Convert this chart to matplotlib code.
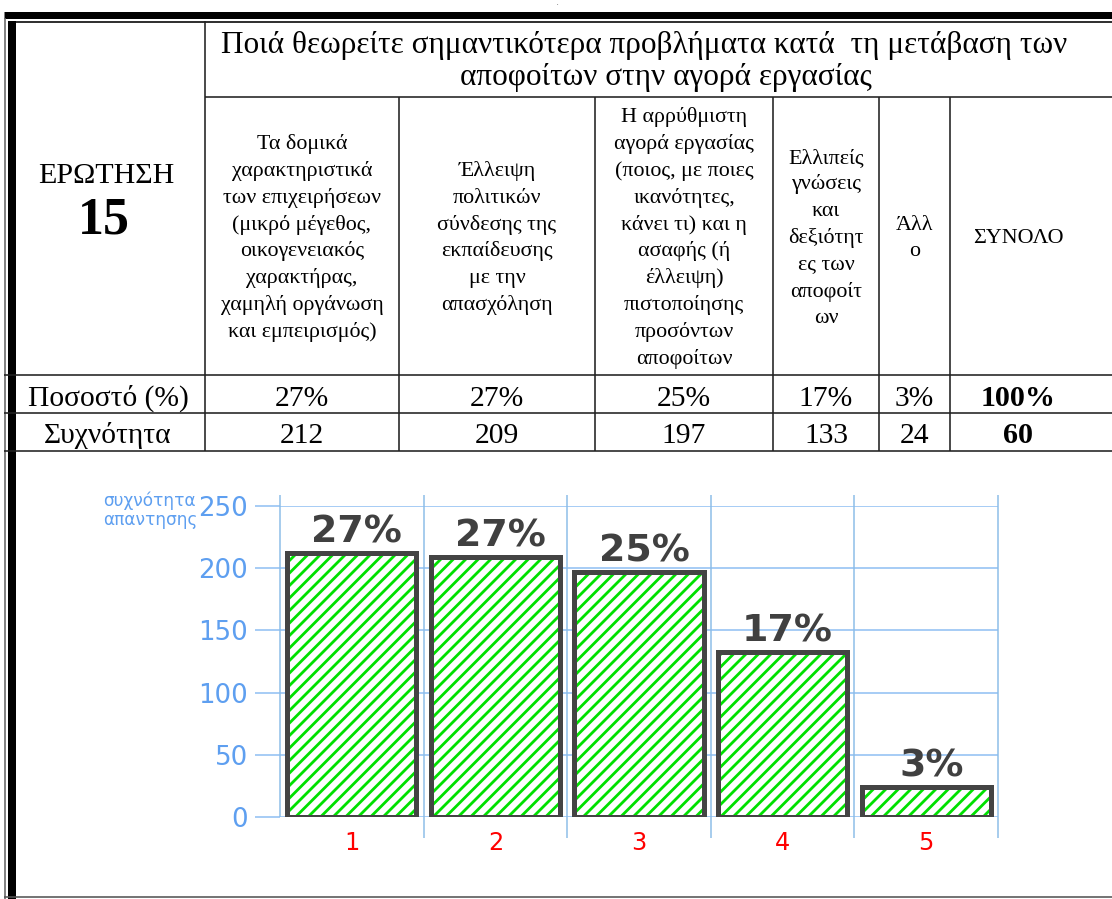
import matplotlib
matplotlib.use('Agg')
import matplotlib.pyplot as plt
import numpy as np

DPI = 75
W, H = 1112, 899
P = 72.0 / DPI   # pixel -> point

# ---------------- data ----------------
title_lines = ['Ποιά θεωρείτε σημαντικότερα προβλήματα κατά  τη μετάβαση των',
               'αποφοίτων στην αγορά εργασίας']
question = 'ΕΡΩΤΗΣΗ'
question_no = '15'
headers = [
    ['Τα δομικά', 'χαρακτηριστικά', 'των επιχειρήσεων', '(μικρό μέγεθος,',
     'οικογενειακός', 'χαρακτήρας,', 'χαμηλή οργάνωση', 'και εμπειρισμός)'],
    ['Έλλειψη', 'πολιτικών', 'σύνδεσης της', 'εκπαίδευσης', 'με την', 'απασχόληση'],
    ['Η αρρύθμιστη', 'αγορά εργασίας', '(ποιος, με ποιες', 'ικανότητες,',
     'κάνει τι) και η', 'ασαφής (ή', 'έλλειψη)', 'πιστοποίησης', 'προσόντων', 'αποφοίτων'],
    ['Ελλιπείς', 'γνώσεις', 'και', 'δεξιότητ', 'ες των', 'αποφοίτ', 'ων'],
    ['Άλλ', 'ο'],
    ['ΣΥΝΟΛΟ'],
]
row_labels = ['Ποσοστό (%)', 'Συχνότητα']
percent = [27, 27, 25, 17, 3]
frequency = [212, 209, 197, 133, 24]
total_percent = 100
total_frequency = 60
categories = ['1', '2', '3', '4', '5']
yticks = [0, 50, 100, 150, 200, 250]
ylabel_lines = ['συχνότητα', 'απαντησης']

SERIF = 'Liberation Serif'
plt.rcParams['hatch.linewidth'] = 2.8 * P

fig = plt.figure(figsize=(W / DPI, H / DPI), dpi=DPI)

# ---- background layer in pixel coordinates: table frame and texts ----
bg = fig.add_axes([0, 0, 1, 1])
bg.set_xlim(0, W)
bg.set_ylim(H, 0)
bg.axis('off')


def hline(y, x0, x1, lw=1.6, c='#222222'):
    bg.plot([x0, x1], [y, y], color=c, lw=lw * P, solid_capstyle='butt')


def vline(x, y0, y1, lw=1.6, c='#222222'):
    bg.plot([x, x], [y0, y1], color=c, lw=lw * P, solid_capstyle='butt')


# outer double border
hline(14.5, 4, W, lw=7, c='black')
hline(21.5, 8, W, lw=1.6, c='black')
vline(5, 18, H, lw=1.6, c='#666666')
vline(12, 21, H, lw=8, c='black')
hline(897, 4, W, lw=1.6, c='#555555')

col_edges = [205, 399, 595, 773, 879, 950, 1086]
y_head, y_r1, y_r2, y_bot = 97, 375, 413, 451

hline(y_head, col_edges[0], W)
for y in (y_r1, y_r2, y_bot):
    hline(y, 4, W)
vline(col_edges[0], 21, y_bot)
for xe in col_edges[1:-1]:
    vline(xe, y_head, y_bot)

bg.text(557, 5, '.', ha='center', va='baseline', fontsize=6 * P, family=SERIF)

# title
bg.text(644, 53, title_lines[0], ha='center', va='baseline', fontsize=31.3 * P, family=SERIF)
bg.text(666, 85, title_lines[1], ha='center', va='baseline', fontsize=31.3 * P, family=SERIF)

# question cell
bg.text(106, 183, question, ha='center', va='baseline', fontsize=30 * P, family=SERIF)
bg.text(104, 233, question_no, ha='center', va='baseline', fontsize=52 * P,
        family=SERIF, fontweight='bold')

# column headers
col_centers = [(a + b) / 2 for a, b in zip(col_edges[:-1], col_edges[1:])]
gap = 26.8
for cx, lines in zip(col_centers, headers):
    n = len(lines)
    for i, line in enumerate(lines):
        y = 237 + (i - (n - 1) / 2) * gap + 6
        bg.text(cx, y, line, ha='center', va='baseline', fontsize=22 * P, family=SERIF)

# value rows
bg.text(108, 406, row_labels[0], ha='center', va='baseline', fontsize=29.5 * P, family=SERIF)
bg.text(108, 443, row_labels[1], ha='center', va='baseline', fontsize=29.5 * P, family=SERIF)
for cx, p, f in zip(col_centers, percent, frequency):
    bg.text(cx, 406, f'{p}%', ha='center', va='baseline', fontsize=29.5 * P, family=SERIF)
    bg.text(cx, 443, str(f), ha='center', va='baseline', fontsize=29.5 * P, family=SERIF)
bg.text(col_centers[-1], 406, f'{total_percent}%', ha='center', va='baseline',
        fontsize=30 * P, family=SERIF, fontweight='bold')
bg.text(col_centers[-1], 443, str(total_frequency), ha='center', va='baseline',
        fontsize=30 * P, family=SERIF, fontweight='bold')

# y label of the chart
BLUE_TXT = '#5e9ff0'
bg.text(103, 506, ylabel_lines[0], ha='left', va='baseline', fontsize=17 * P, color=BLUE_TXT)
bg.text(103, 525, ylabel_lines[1], ha='left', va='baseline', fontsize=17 * P, color=BLUE_TXT)

# ---------------- bar chart ----------------
ax = fig.add_axes([280 / W, 1 - 817 / H, 718 / W, 311 / H])
ax.patch.set_alpha(0)
x = np.arange(1, len(categories) + 1)

ax.bar(x, frequency, width=0.9, facecolor='white', edgecolor='#00e000',
       hatch='//', linewidth=0, zorder=3)
ax.bar(x, frequency, width=0.9, facecolor='none', edgecolor='#444444',
       linewidth=5 * P, zorder=4)

for xi, v, p in zip(x, frequency, percent):
    ax.annotate(f'{p}%', (xi, v), xytext=(5 * P, 10.5 * P), textcoords='offset points',
                ha='center', va='baseline', fontsize=38 * P, fontweight='bold',
                color='#404040', zorder=5)

ax.set_xlim(0.5, len(categories) + 0.5)
ax.set_ylim(0, 250)
ax.set_yticks(yticks)
ax.set_xticks(x, categories)
ax.yaxis.grid(True, color='#a8cdf5', lw=2 * P)
ax.set_axisbelow(True)
ax.tick_params(axis='y', length=25 * P, width=2 * P, color='#a8cdf5', pad=7 * P,
               labelsize=26 * P, labelcolor=BLUE_TXT)
ax.tick_params(axis='x', length=0, pad=14 * P, labelsize=24 * P, labelcolor='red')
for s in ax.spines.values():
    s.set_visible(False)

bounds = np.arange(0.5, len(categories) + 1)
ax.vlines(bounds[0], 0, 259, color='#8cbde8', lw=1.5 * P, clip_on=False, zorder=1)
ax.vlines(bounds[1:], -17, 259, color='#8cbde8', lw=1.5 * P, clip_on=False, zorder=1)

fig.savefig('out.png', dpi=DPI)
